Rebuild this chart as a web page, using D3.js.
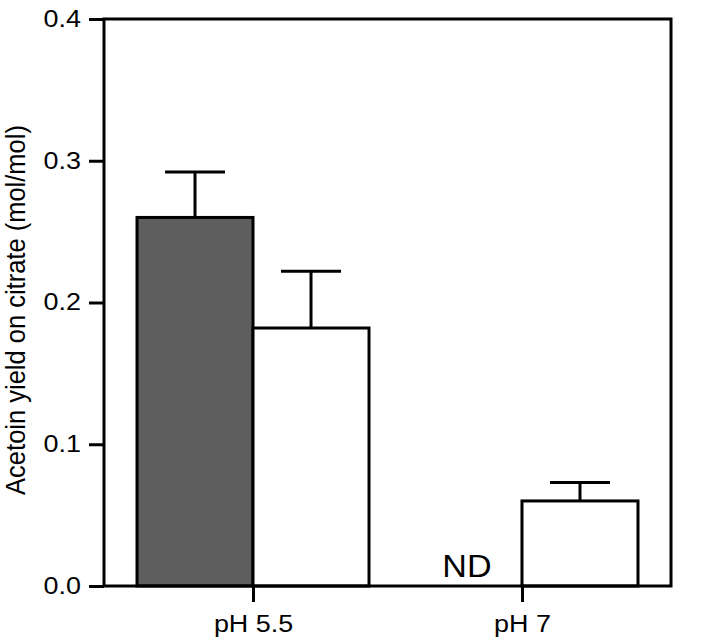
<!DOCTYPE html>
<html>
<head>
<meta charset="utf-8">
<script src="https://cdn.jsdelivr.net/npm/d3@7"></script>
<style>
  body { margin: 0; background: #fff; }
  svg { display: block; font-family: "Liberation Sans", Arial, sans-serif; }
</style>
</head>
<body>
<div id="chart"></div>
<script>
const categories = ['pH 5.5', 'pH 7'];
const darkValues = [0.26, null];      // null = ND
const darkErrors = [0.032, null];
const whiteValues = [0.182, 0.06];
const whiteErrors = [0.04, 0.013];
const yTicks = [0.0, 0.1, 0.2, 0.3, 0.4];

const width = 709;
const height = 642;
const margin = { top: 19, right: 38, bottom: 56, left: 104 };
const barWidth = 116;
const capWidth = 60;
const textStretch = 1.17;

const svg = d3.select('#chart')
  .append('svg')
    .attr('width', width)
    .attr('height', height);

const x = d3.scalePoint()
  .domain(categories)
  .range([margin.left, width - margin.right])
  .padding(0.554);

const y = d3.scaleLinear()
  .domain([0, 0.4])
  .range([height - margin.bottom, margin.top]);

// bars: dark one left of the category tick, white one right of it
const bars = [];
categories.forEach((c, i) => {
  if (darkValues[i] != null) {
    bars.push({ cat: c, x0: x(c) - barWidth, v: darkValues[i], e: darkErrors[i], fill: '#5e5e5e' });
  }
  bars.push({ cat: c, x0: x(c), v: whiteValues[i], e: whiteErrors[i], fill: '#fff' });
});

// error bars (upper only)
const err = svg.append('g')
    .attr('stroke', '#000')
    .attr('stroke-width', 3);

err.selectAll('line.stem')
  .data(bars)
  .join('line')
    .attr('class', 'stem')
    .attr('x1', d => d.x0 + barWidth / 2)
    .attr('x2', d => d.x0 + barWidth / 2)
    .attr('y1', d => y(d.v))
    .attr('y2', d => y(d.v + d.e));

err.selectAll('line.cap')
  .data(bars)
  .join('line')
    .attr('class', 'cap')
    .attr('x1', d => d.x0 + barWidth / 2 - capWidth / 2)
    .attr('x2', d => d.x0 + barWidth / 2 + capWidth / 2)
    .attr('y1', d => y(d.v + d.e))
    .attr('y2', d => y(d.v + d.e));

svg.append('g')
  .selectAll('rect')
  .data(bars)
  .join('rect')
    .attr('x', d => d.x0)
    .attr('y', d => y(d.v))
    .attr('width', barWidth)
    .attr('height', d => y(0) - y(d.v))
    .attr('fill', d => d.fill)
    .attr('stroke', '#000')
    .attr('stroke-width', 3);

// ND label for missing dark bar
categories.forEach((c, i) => {
  if (darkValues[i] == null) {
    svg.append('text')
        .attr('transform', `translate(${x(c) - barWidth / 2 + 3}, ${y(0) - 9}) scale(1.1, 1)`)
        .attr('text-anchor', 'middle')
        .attr('font-size', 31)
        .text('ND');
  }
});

// frame
svg.append('rect')
    .attr('x', margin.left)
    .attr('y', margin.top)
    .attr('width', width - margin.left - margin.right)
    .attr('height', height - margin.top - margin.bottom)
    .attr('fill', 'none')
    .attr('stroke', '#000')
    .attr('stroke-width', 3);

// Left axis
const yAxis = svg.append('g')
    .attr('transform', `translate(${margin.left}, 0)`)
    .call(d3.axisLeft(y).tickValues(yTicks).tickFormat(d3.format('.1f')).tickSize(15).tickPadding(6));
yAxis.select('.domain').remove();
yAxis.selectAll('line').attr('stroke-width', 3);
yAxis.selectAll('text')
    .attr('font-size', 23)
    .attr('font-family', '"Liberation Sans", Arial, sans-serif')
    .attr('fill', '#000')
    .attr('x', -23 / textStretch)
    .attr('transform', `scale(${textStretch}, 1)`);

// Bottom axis
const xAxis = svg.append('g')
    .attr('transform', `translate(0, ${height - margin.bottom})`)
    .call(d3.axisBottom(x).tickSize(16));
xAxis.select('.domain').remove();
xAxis.selectAll('line').attr('stroke-width', 3);
xAxis.selectAll('text')
    .attr('font-size', 23)
    .attr('font-family', '"Liberation Sans", Arial, sans-serif')
    .attr('fill', '#000')
    .attr('y', 46)
    .attr('dy', 0)
    .attr('transform', `scale(${textStretch}, 1)`);

// y label
svg.append('text')
    .attr('transform', `translate(25, 310) rotate(-90) scale(1, 1.1)`)
    .attr('text-anchor', 'middle')
    .attr('font-size', 25.5)
    .text('Acetoin yield on citrate (mol/mol)');
</script>
</body>
</html>
